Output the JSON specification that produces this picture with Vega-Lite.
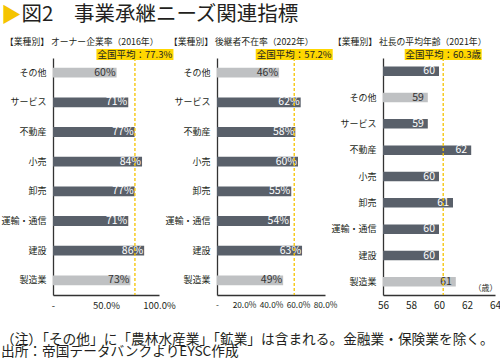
{
  "$schema": "https://vega.github.io/schema/vega-lite/v6.json",
  "background": "white",
  "padding": {"left": 0, "top": 4, "right": 2, "bottom": 4},
  "config": {
    "font": "Noto Sans CJK JP",
    "view": {"stroke": null},
    "axis": {"labelFont": "Noto Sans CJK JP", "titleFont": "Noto Sans CJK JP"},
    "title": {"font": "Noto Sans CJK JP", "subtitleFont": "Noto Sans CJK JP"}
  },
  "datasets": {
    "owner": [
      {"cat": "その他", "v": 0.60, "kind": "light"},
      {"cat": "サービス", "v": 0.71, "kind": "dark"},
      {"cat": "不動産", "v": 0.77, "kind": "dark"},
      {"cat": "小売", "v": 0.84, "kind": "dark"},
      {"cat": "卸売", "v": 0.77, "kind": "dark"},
      {"cat": "運輸・通信", "v": 0.71, "kind": "dark"},
      {"cat": "建設", "v": 0.86, "kind": "dark"},
      {"cat": "製造業", "v": 0.73, "kind": "light"}
    ],
    "ownerAvg": [{"avg": 0.773, "label": "全国平均：77.3%"}],
    "successor": [
      {"cat": "その他", "v": 0.46, "kind": "light"},
      {"cat": "サービス", "v": 0.62, "kind": "dark"},
      {"cat": "不動産", "v": 0.58, "kind": "dark"},
      {"cat": "小売", "v": 0.60, "kind": "dark"},
      {"cat": "卸売", "v": 0.55, "kind": "dark"},
      {"cat": "運輸・通信", "v": 0.54, "kind": "dark"},
      {"cat": "建設", "v": 0.63, "kind": "dark"},
      {"cat": "製造業", "v": 0.49, "kind": "light"}
    ],
    "successorAvg": [{"avg": 0.572, "label": "全国平均：57.2%"}],
    "age": [
      {"cat": " ", "v": 60.0, "kind": "dark"},
      {"cat": "その他", "v": 59.2, "kind": "light"},
      {"cat": "サービス", "v": 59.2, "kind": "dark"},
      {"cat": "不動産", "v": 62.3, "kind": "dark"},
      {"cat": "小売", "v": 60.0, "kind": "dark"},
      {"cat": "卸売", "v": 61.0, "kind": "dark"},
      {"cat": "運輸・通信", "v": 60.0, "kind": "dark"},
      {"cat": "建設", "v": 60.0, "kind": "dark"},
      {"cat": "製造業", "v": 61.2, "kind": "light"}
    ],
    "ageAvg": [{"avg": 60.3, "label": "全国平均：60.3歳"}]
  },
  "title": {
    "text": "▶",
    "subtitle": "\u200b\u3000図2　事業承継ニーズ関連指標",
    "anchor": "start",
    "frame": "bounds",
    "fontSize": 20.5,
    "fontWeight": "normal",
    "color": "#f5c400",
    "subtitleFontSize": 20.5,
    "subtitleFontWeight": "normal",
    "subtitleColor": "#231f20",
    "subtitlePadding": -22,
    "offset": 10
  },
  "vconcat": [
    {
      "title": {
        "text": ["（注）「その他」に「農林水産業」「鉱業」は含まれる。金融業・保険業を除く。", "出所：帝国データバンクよりEYSC作成"],
        "orient": "bottom",
        "anchor": "start",
        "frame": "bounds",
        "fontSize": 13.7,
        "fontWeight": "normal",
        "color": "#231f20",
        "lineHeight": 11.5,
        "offset": 23
      },
      "bounds": "flush",
      "spacing": 58,
      "hconcat": [
        {
          "width": 106,
          "height": 237,
          "title": {"text": "【業種別】 オーナー企業率（2016年）", "anchor": "start", "frame": "bounds", "dx": 4, "fontSize": 8.8, "fontWeight": "normal", "color": "#231f20", "offset": 2},
          "layer": [
            {
              "data": {"name": "owner"},
              "mark": {"type": "bar"},
              "encoding": {
                "y": {"field": "cat", "type": "nominal", "sort": null, "scale": {"paddingInner": 0.67, "paddingOuter": 0.33},
                  "axis": {"title": null, "ticks": false, "domainColor": "#333333", "domainWidth": 1.3, "labelFontSize": 9, "labelColor": "#231f20", "labelPadding": 7}},
                "x": {"field": "v", "type": "quantitative", "scale": {"domain": [0, 1]},
                  "axis": {"title": null, "grid": false, "ticks": false, "domainColor": "#333333", "domainWidth": 1.3, "values": [0, 0.5, 1], "tickCount": 10, "format": ".1%", "labelExpr": "datum.value == 0 ? '-' : datum.label", "labelFontSize": 9.5, "labelColor": "#231f20", "labelPadding": 5, "labelOverlap": false, "labelFlush": false}},
                "color": {"field": "kind", "type": "nominal", "scale": {"domain": ["dark", "light"], "range": ["#59606a", "#bfc1c3"]}, "legend": null}
              }
            },
            {
              "data": {"name": "owner"},
              "mark": {"type": "text", "align": "right", "baseline": "middle", "dx": -1, "fontSize": 10.5},
              "encoding": {
                "y": {"field": "cat", "type": "nominal", "sort": null},
                "x": {"field": "v", "type": "quantitative"},
                "text": {"field": "v", "type": "quantitative", "format": ".0%"},
                "color": {"field": "kind", "type": "nominal", "scale": {"domain": ["dark", "light"], "range": ["#ffffff", "#333333"]}, "legend": null}
              }
            },
            {
              "data": {"name": "ownerAvg"},
              "mark": {"type": "rule", "color": "#f5c400", "strokeDash": [3, 2], "strokeWidth": 1.3},
              "encoding": {"x": {"field": "avg", "type": "quantitative"}}
            },
            {
              "data": {"name": "ownerAvg"},
              "mark": {"type": "point", "shape": "M-38.5,-9H38.5V2H-38.5Z", "size": 4, "filled": true, "opacity": 1, "color": "#ffd700", "strokeWidth": 0},
              "encoding": {"x": {"field": "avg", "type": "quantitative"}, "y": {"value": 0}}
            },
            {
              "data": {"name": "ownerAvg"},
              "mark": {"type": "text", "align": "center", "baseline": "middle", "dy": -3.5, "fontSize": 9.5, "color": "#231f20"},
              "encoding": {"x": {"field": "avg", "type": "quantitative"}, "y": {"value": 0}, "text": {"field": "label"}}
            }
          ],
          "resolve": {"scale": {"color": "independent"}}
        },
        {
          "width": 108,
          "height": 237,
          "title": {"text": "【業種別】 後継者不在率（2022年）", "anchor": "start", "frame": "bounds", "dx": 4, "fontSize": 8.8, "fontWeight": "normal", "color": "#231f20", "offset": 2},
          "layer": [
            {
              "data": {"name": "successor"},
              "mark": {"type": "bar"},
              "encoding": {
                "y": {"field": "cat", "type": "nominal", "sort": null, "scale": {"paddingInner": 0.67, "paddingOuter": 0.33},
                  "axis": {"title": null, "ticks": false, "domainColor": "#333333", "domainWidth": 1.3, "labelFontSize": 9, "labelColor": "#231f20", "labelPadding": 7}},
                "x": {"field": "v", "type": "quantitative", "scale": {"domain": [0, 0.8]},
                  "axis": {"title": null, "grid": false, "ticks": false, "domainColor": "#333333", "domainWidth": 1.3, "values": [0, 0.2, 0.4, 0.6, 0.8], "tickCount": 10, "format": ".1%", "labelExpr": "datum.value == 0 ? '-' : datum.label", "labelFontSize": 8.3, "labelColor": "#231f20", "labelPadding": 5, "labelOverlap": false, "labelFlush": false}},
                "color": {"field": "kind", "type": "nominal", "scale": {"domain": ["dark", "light"], "range": ["#59606a", "#bfc1c3"]}, "legend": null}
              }
            },
            {
              "data": {"name": "successor"},
              "mark": {"type": "text", "align": "right", "baseline": "middle", "dx": -1, "fontSize": 10.5},
              "encoding": {
                "y": {"field": "cat", "type": "nominal", "sort": null},
                "x": {"field": "v", "type": "quantitative"},
                "text": {"field": "v", "type": "quantitative", "format": ".0%"},
                "color": {"field": "kind", "type": "nominal", "scale": {"domain": ["dark", "light"], "range": ["#ffffff", "#333333"]}, "legend": null}
              }
            },
            {
              "data": {"name": "successorAvg"},
              "mark": {"type": "rule", "color": "#f5c400", "strokeDash": [3, 2], "strokeWidth": 1.3},
              "encoding": {"x": {"field": "avg", "type": "quantitative"}}
            },
            {
              "data": {"name": "successorAvg"},
              "mark": {"type": "point", "shape": "M-38.5,-9H38.5V2H-38.5Z", "size": 4, "filled": true, "opacity": 1, "color": "#ffd700", "strokeWidth": 0},
              "encoding": {"x": {"field": "avg", "type": "quantitative"}, "y": {"value": 0}}
            },
            {
              "data": {"name": "successorAvg"},
              "mark": {"type": "text", "align": "center", "baseline": "middle", "dy": -3.5, "fontSize": 9.5, "color": "#231f20"},
              "encoding": {"x": {"field": "avg", "type": "quantitative"}, "y": {"value": 0}, "text": {"field": "label"}}
            }
          ],
          "resolve": {"scale": {"color": "independent"}}
        },
        {
          "width": 112,
          "height": 237,
          "title": {"text": "【業種別】 社長の平均年齢（2021年）", "anchor": "start", "frame": "bounds", "dx": 2, "fontSize": 8.8, "fontWeight": "normal", "color": "#231f20", "offset": 2},
          "layer": [
            {
              "data": {"name": "age"},
              "mark": {"type": "bar", "clip": true},
              "encoding": {
                "y": {"field": "cat", "type": "nominal", "sort": null, "scale": {"paddingInner": 0.64, "paddingOuter": 0.32},
                  "axis": {"title": null, "ticks": false, "domainColor": "#333333", "domainWidth": 1.3, "labelFontSize": 9, "labelColor": "#231f20", "labelPadding": 7}},
                "x": {"field": "v", "type": "quantitative", "scale": {"domain": [56, 64], "zero": false},
                  "axis": {"title": "（歳）", "titleFontSize": 8, "titleFontWeight": "normal", "titleColor": "#231f20", "titleAnchor": "end", "titleAlign": "right", "titleBaseline": "alphabetic", "titleY": -5, "titleX": 114, "grid": false, "ticks": false, "domainColor": "#333333", "domainWidth": 1.3, "values": [56, 58, 60, 62, 64], "tickCount": 10, "labelFontSize": 10, "labelColor": "#231f20", "labelPadding": 5, "labelOverlap": false, "labelFlush": false}},
                "color": {"field": "kind", "type": "nominal", "scale": {"domain": ["dark", "light"], "range": ["#59606a", "#bfc1c3"]}, "legend": null}
              }
            },
            {
              "data": {"name": "age"},
              "mark": {"type": "text", "align": "right", "baseline": "middle", "dx": -4, "fontSize": 10.5},
              "encoding": {
                "y": {"field": "cat", "type": "nominal", "sort": null},
                "x": {"field": "v", "type": "quantitative"},
                "text": {"field": "v", "type": "quantitative", "format": ".0f"},
                "color": {"field": "kind", "type": "nominal", "scale": {"domain": ["dark", "light"], "range": ["#ffffff", "#333333"]}, "legend": null}
              }
            },
            {
              "data": {"name": "ageAvg"},
              "mark": {"type": "rule", "color": "#f5c400", "strokeDash": [3, 2], "strokeWidth": 1.3},
              "encoding": {"x": {"field": "avg", "type": "quantitative"}}
            },
            {
              "data": {"name": "ageAvg"},
              "mark": {"type": "point", "shape": "M-38.5,-9H38.5V2H-38.5Z", "size": 4, "filled": true, "opacity": 1, "color": "#ffd700", "strokeWidth": 0},
              "encoding": {"x": {"field": "avg", "type": "quantitative"}, "y": {"value": 0}}
            },
            {
              "data": {"name": "ageAvg"},
              "mark": {"type": "text", "align": "center", "baseline": "middle", "dy": -3.5, "fontSize": 9.5, "color": "#231f20"},
              "encoding": {"x": {"field": "avg", "type": "quantitative"}, "y": {"value": 0}, "text": {"field": "label"}}
            }
          ],
          "resolve": {"scale": {"color": "independent"}}
        }
      ]
    }
  ]
}
